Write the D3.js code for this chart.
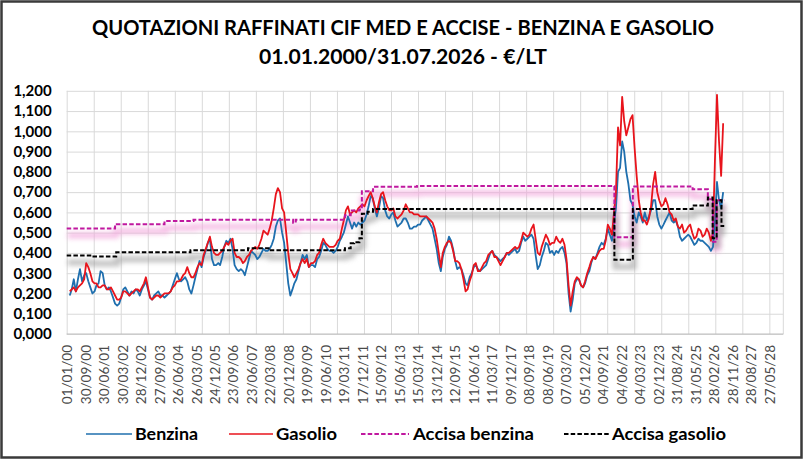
<!DOCTYPE html>
<html>
<head>
<meta charset="utf-8">
<script src="https://cdn.jsdelivr.net/npm/d3@7"></script>
<style>
  body { margin: 0; background: #fff; }
  svg { display: block; }
</style>
</head>
<body>
<div id="chart"></div>
<script>
// quotazioni mensili (€/lt), una riga per anno, gen 2000 -> lug 2026
const firstMonth = "2000-01-15";
const benzina = [
  0.19, 0.22, 0.27, 0.21, 0.27, 0.32, 0.26, 0.29, 0.30, 0.26, 0.23, 0.20,
  0.21, 0.24, 0.25, 0.31, 0.30, 0.24, 0.22, 0.23, 0.21, 0.18, 0.15, 0.14,
  0.15, 0.18, 0.22, 0.23, 0.21, 0.19, 0.21, 0.20, 0.22, 0.21, 0.19, 0.22,
  0.24, 0.26, 0.22, 0.18, 0.17, 0.19, 0.20, 0.21, 0.19, 0.19, 0.18, 0.19,
  0.20, 0.21, 0.24, 0.27, 0.30, 0.27, 0.26, 0.27, 0.28, 0.26, 0.22, 0.20,
  0.24, 0.28, 0.32, 0.36, 0.33, 0.38, 0.41, 0.45, 0.47, 0.37, 0.34, 0.34,
  0.35, 0.34, 0.38, 0.43, 0.46, 0.45, 0.47, 0.42, 0.34, 0.32, 0.31, 0.32,
  0.31, 0.29, 0.33, 0.37, 0.41, 0.40, 0.39, 0.37, 0.38, 0.40, 0.42, 0.41,
  0.41, 0.42, 0.44, 0.47, 0.53, 0.56, 0.57, 0.50, 0.45, 0.35, 0.25, 0.19,
  0.22, 0.25, 0.27, 0.31, 0.35, 0.39, 0.37, 0.39, 0.33, 0.34, 0.34, 0.33,
  0.37, 0.38, 0.41, 0.45, 0.44, 0.42, 0.41, 0.41, 0.40, 0.41, 0.43, 0.46,
  0.48, 0.50, 0.54, 0.58, 0.55, 0.52, 0.55, 0.53, 0.55, 0.54, 0.55, 0.56,
  0.59, 0.63, 0.68, 0.67, 0.62, 0.58, 0.62, 0.68, 0.67, 0.61, 0.58, 0.57,
  0.59, 0.60, 0.56, 0.53, 0.54, 0.55, 0.57, 0.57, 0.55, 0.52, 0.52, 0.53,
  0.53, 0.54, 0.54, 0.56, 0.57, 0.58, 0.56, 0.54, 0.52, 0.47, 0.42, 0.35,
  0.31, 0.38, 0.42, 0.44, 0.48, 0.46, 0.42, 0.36, 0.32, 0.33, 0.32, 0.29,
  0.25, 0.24, 0.28, 0.30, 0.33, 0.34, 0.32, 0.31, 0.32, 0.33, 0.34, 0.37,
  0.40, 0.41, 0.39, 0.38, 0.37, 0.36, 0.37, 0.38, 0.40, 0.39, 0.40, 0.41,
  0.42, 0.40, 0.41, 0.45, 0.48, 0.46, 0.47, 0.48, 0.49, 0.47, 0.39, 0.32,
  0.34, 0.38, 0.41, 0.45, 0.44, 0.40, 0.41, 0.39, 0.41, 0.40, 0.42, 0.43,
  0.40, 0.35, 0.20, 0.11, 0.17, 0.25, 0.27, 0.27, 0.24, 0.23, 0.25, 0.29,
  0.31, 0.35, 0.38, 0.37, 0.40, 0.43, 0.45, 0.44, 0.47, 0.52, 0.49, 0.46,
  0.55, 0.62, 0.80, 0.82, 0.95, 0.90, 0.80, 0.74, 0.66, 0.64, 0.58, 0.55,
  0.60, 0.58, 0.55, 0.60, 0.56, 0.58, 0.61, 0.66, 0.66, 0.58, 0.54, 0.52,
  0.54, 0.56, 0.58, 0.60, 0.56, 0.55, 0.56, 0.53, 0.48, 0.46, 0.47, 0.48,
  0.49, 0.48, 0.46, 0.44, 0.45, 0.47, 0.46, 0.46, 0.45, 0.44, 0.43, 0.41,
  0.43, 0.55, 0.75, 0.66, 0.62, 0.70, 0.66
];
const gasolio = [
  0.21, 0.22, 0.23, 0.21, 0.23, 0.24, 0.25, 0.27, 0.35, 0.33, 0.30, 0.26,
  0.25, 0.25, 0.23, 0.23, 0.24, 0.24, 0.22, 0.22, 0.23, 0.21, 0.19, 0.17,
  0.17, 0.18, 0.21, 0.21, 0.20, 0.19, 0.20, 0.21, 0.22, 0.22, 0.21, 0.23,
  0.25, 0.28, 0.23, 0.18, 0.17, 0.18, 0.19, 0.19, 0.18, 0.19, 0.20, 0.20,
  0.20, 0.21, 0.23, 0.24, 0.26, 0.26, 0.27, 0.29, 0.30, 0.33, 0.30, 0.28,
  0.28, 0.30, 0.33, 0.35, 0.34, 0.39, 0.42, 0.45, 0.48, 0.43, 0.40, 0.39,
  0.39, 0.40, 0.41, 0.43, 0.45, 0.44, 0.46, 0.47, 0.40, 0.38, 0.38, 0.37,
  0.35, 0.36, 0.38, 0.39, 0.41, 0.42, 0.43, 0.42, 0.44, 0.47, 0.51, 0.50,
  0.49, 0.52, 0.56, 0.62, 0.69, 0.72, 0.70, 0.62, 0.60, 0.50, 0.40, 0.32,
  0.30, 0.28, 0.30, 0.32, 0.35, 0.37, 0.35, 0.37, 0.33, 0.35, 0.35, 0.36,
  0.39, 0.40, 0.44, 0.47, 0.45, 0.44, 0.43, 0.43, 0.43, 0.44, 0.46, 0.47,
  0.52, 0.56, 0.61, 0.63, 0.59, 0.60, 0.61, 0.60, 0.62, 0.63, 0.64, 0.63,
  0.66, 0.68, 0.70, 0.67, 0.63, 0.60, 0.65, 0.69, 0.70, 0.66, 0.63, 0.61,
  0.61, 0.62, 0.58, 0.57, 0.58, 0.59, 0.61, 0.64, 0.62, 0.60, 0.60, 0.59,
  0.59, 0.59, 0.58, 0.58, 0.58, 0.58, 0.57, 0.56, 0.55, 0.52, 0.47, 0.40,
  0.33, 0.40, 0.43, 0.45, 0.46, 0.45, 0.41, 0.36, 0.36, 0.35, 0.32, 0.27,
  0.21, 0.22, 0.26, 0.29, 0.34, 0.35, 0.31, 0.31, 0.33, 0.35, 0.36, 0.39,
  0.40, 0.41, 0.38, 0.38, 0.36, 0.34, 0.36, 0.38, 0.40, 0.40, 0.41, 0.42,
  0.43, 0.42, 0.43, 0.46, 0.50, 0.49, 0.48, 0.49, 0.52, 0.54, 0.47, 0.40,
  0.39, 0.43, 0.46, 0.49, 0.47, 0.44, 0.45, 0.45, 0.48, 0.46, 0.45, 0.47,
  0.44, 0.37, 0.24, 0.14, 0.21, 0.26, 0.28, 0.27, 0.24, 0.23, 0.26, 0.30,
  0.33, 0.36, 0.38, 0.37, 0.39, 0.41, 0.42, 0.42, 0.46, 0.54, 0.52, 0.49,
  0.60, 0.70, 1.02, 0.93, 1.17, 1.05, 0.98, 1.02, 1.06, 1.08, 0.92, 0.78,
  0.66, 0.60, 0.56, 0.56, 0.54, 0.57, 0.63, 0.74, 0.80, 0.70, 0.66, 0.63,
  0.64, 0.67, 0.64, 0.60, 0.59, 0.56, 0.57, 0.53, 0.52, 0.54, 0.50, 0.51,
  0.53, 0.54, 0.50, 0.47, 0.48, 0.52, 0.51, 0.48, 0.49, 0.52, 0.50, 0.46,
  0.50, 0.85, 1.18, 0.95, 0.78, 1.04, 0.90
];

// accise: data di variazione e nuovo valore (€/lt)
const acciseBenzinaDate = ["2000-01-01", "2001-12-15", "2003-12-15", "2005-02-15", "2009-02-25", "2009-04-05",
  "2011-04-01", "2011-06-25", "2011-11-01", "2011-12-07", "2012-05-20", "2014-03-01", "2022-02-20",
  "2022-11-20", "2025-04-20", "2025-12-01", "2026-02-15", "2026-04-10", "2026-07-31"];
const acciseBenzina = [0.520, 0.542, 0.558, 0.564, 0.549, 0.564,
  0.586, 0.609, 0.614, 0.704, 0.726, 0.730, 0.478,
  0.728, 0.714, 0.665, 0.455, 0.660, 0.660];
const acciseGasolioDate = ["2000-01-01", "2001-01-01", "2002-01-01", "2005-01-01", "2007-05-01", "2008-03-15",
  "2011-04-01", "2011-06-25", "2011-08-15", "2011-11-01", "2011-12-07", "2012-03-01", "2012-05-20",
  "2022-02-20", "2022-11-20", "2025-04-20", "2025-12-01", "2026-02-10", "2026-04-10",
  "2026-06-20", "2026-07-31"];
const acciseGasolio = [0.387, 0.382, 0.403, 0.413, 0.423, 0.413,
  0.423, 0.448, 0.453, 0.473, 0.593, 0.603, 0.617,
  0.366, 0.617, 0.634, 0.674, 0.472, 0.660,
  0.533, 0.533];

const xTickLabels = ["01/01/00", "30/09/00", "30/06/01", "30/03/02", "28/12/02", "27/09/03", "26/06/04",
  "26/03/05", "24/12/05", "23/09/06", "23/06/07", "22/03/08", "20/12/08", "19/09/09", "19/06/10",
  "19/03/11", "17/12/11", "15/09/12", "15/06/13", "15/03/14", "13/12/14", "12/09/15", "11/06/16",
  "11/03/17", "09/12/17", "08/09/18", "08/06/19", "07/03/20", "05/12/20", "04/09/21", "04/06/22",
  "04/03/23", "02/12/23", "31/08/24", "31/05/25", "28/02/26", "28/11/26", "28/08/27", "27/05/28"];
const yTicks = [0, 0.1, 0.2, 0.3, 0.4, 0.5, 0.6, 0.7, 0.8, 0.9, 1.0, 1.1, 1.2];

const seriesNames = ["Benzina", "Gasolio", "Accisa benzina", "Accisa gasolio"];
const seriesColors = ["#1f6fae", "#e8141c", "#c0189f", "#000000"];

const width = 806;
const height = 463;
const marginLeft = 66.7;
const marginRight = 22.7;
const marginTop = 90.8;
const plotBottom = 334;
const gridStepDays = 399;
const axisDays = 10580;

const parseIso = d3.utcParse("%Y-%m-%d");
const parseTick = d3.utcParse("%d/%m/%y");
const itLocale = d3.formatLocale({ decimal: ",", thousands: ".", grouping: [3], currency: ["€", ""] });
const formatY = itLocale.format(".3f");

const start = parseIso("2000-01-01");
const x = d3.scaleUtc()
  .domain([start, d3.utcDay.offset(start, axisDays)])
  .range([marginLeft, width - marginRight]);
const y = d3.scaleLinear().domain([0, 1.2]).range([plotBottom, marginTop]);

const months = d3.utcMonth.range(parseIso(firstMonth), parseIso("2026-08-01"))
  .map((d) => d3.utcDay.offset(d, 14));
const benzinaData = months.map((d, i) => ({ date: d, value: benzina[i] }));
const gasolioData = months.map((d, i) => ({ date: d, value: gasolio[i] }));
const acciseBData = acciseBenzinaDate.map((d, i) => ({ date: parseIso(d), value: acciseBenzina[i] }));
const acciseGData = acciseGasolioDate.map((d, i) => ({ date: parseIso(d), value: acciseGasolio[i] }));

const svg = d3.select("#chart")
  .append("svg")
  .attr("width", width)
  .attr("height", height)
  .attr("viewBox", [0, 0, width, height])
  .style("font-family", "Lato, 'Open Sans', sans-serif");

const defs = svg.append("defs");
defs.append("filter")
  .attr("id", "soft")
  .attr("filterUnits", "userSpaceOnUse")
  .attr("x", 0).attr("y", 0).attr("width", width).attr("height", height)
  .append("feGaussianBlur")
  .attr("stdDeviation", 2.6);

svg.append("rect")
  .attr("width", width).attr("height", height)
  .attr("fill", "#fff");

// titolo
const titleLines = [
  { text: "QUOTAZIONI RAFFINATI CIF MED E ACCISE - BENZINA E GASOLIO", y: 28, len: 622 },
  { text: "01.01.2000/31.07.2026 - €/LT", y: 57, len: 288 }
];
svg.append("g")
  .selectAll("text")
  .data(titleLines)
  .join("text")
  .attr("x", 403)
  .attr("y", (d) => d.y)
  .attr("dy", "0.35em")
  .attr("text-anchor", "middle")
  .attr("textLength", (d) => d.len)
  .attr("lengthAdjust", "spacingAndGlyphs")
  .style("font-size", "20px")
  .style("font-weight", "bold")
  .attr("fill", "#000")
  .text((d) => d.text);

// griglia orizzontale
svg.append("g")
  .attr("transform", `translate(${marginLeft},0)`)
  .call(d3.axisLeft(y).tickValues(yTicks).tickSize(-(width - marginRight - marginLeft)).tickFormat(""))
  .call((g) => g.select(".domain").remove())
  .call((g) => g.selectAll(".tick line").attr("stroke", "#d9d9d9").attr("stroke-width", 1));

// griglia verticale
const gridDates = d3.range(0, axisDays, gridStepDays).map((d) => d3.utcDay.offset(start, d));
svg.append("g")
  .attr("transform", `translate(0,${plotBottom})`)
  .call(d3.axisBottom(x).tickValues(gridDates).tickSize(-(plotBottom - marginTop)).tickFormat(""))
  .call((g) => g.select(".domain").remove())
  .call((g) => g.selectAll(".tick line").attr("stroke", "#d9d9d9").attr("stroke-width", 1));

svg.append("line")
  .attr("x1", width - marginRight).attr("x2", width - marginRight)
  .attr("y1", marginTop).attr("y2", plotBottom)
  .attr("stroke", "#d9d9d9");

// asse x
svg.append("g")
  .attr("transform", `translate(0,${plotBottom})`)
  .call(d3.axisBottom(x).tickValues(xTickLabels.map(parseTick)).tickSize(0).tickFormat((d, i) => xTickLabels[i]))
  .call((g) => g.select(".domain").attr("stroke", "#bfbfbf").attr("d", `M${marginLeft},0H${width - marginRight}`))
  .call((g) => g.selectAll(".tick text")
    .attr("transform", "rotate(-90)")
    .attr("x", -11)
    .attr("y", 0)
    .attr("dy", "0.36em")
    .attr("text-anchor", "end")
    .attr("fill", "#4a4a4a")
    .style("font-family", "Lato, sans-serif")
    .style("font-size", "13.5px"));

// asse y
svg.append("g")
  .attr("transform", `translate(${marginLeft},0)`)
  .call(d3.axisLeft(y).tickValues(yTicks).tickSize(0).tickPadding(15).tickFormat(formatY))
  .call((g) => g.select(".domain").remove())
  .call((g) => g.selectAll(".tick text")
    .attr("fill", "#000")
    .style("font-family", "Lato, sans-serif")
    .style("font-weight", "bold")
    .style("font-size", "15px"));

const line = d3.line().x((d) => x(d.date)).y((d) => y(d.value));
const step = d3.line().curve(d3.curveStepAfter).x((d) => x(d.date)).y((d) => y(d.value));

// ombre delle accise
svg.append("path")
  .datum(acciseBData)
  .attr("d", step)
  .attr("fill", "none")
  .attr("stroke", "#f2a6dc")
  .attr("stroke-width", 6)
  .attr("opacity", 0.7)
  .attr("transform", "translate(1,7)")
  .attr("filter", "url(#soft)");
svg.append("path")
  .datum(acciseGData)
  .attr("d", step)
  .attr("fill", "none")
  .attr("stroke", "#9a9a9a")
  .attr("stroke-width", 6)
  .attr("opacity", 0.6)
  .attr("transform", "translate(1,7)")
  .attr("filter", "url(#soft)");

svg.append("path")
  .datum(benzinaData)
  .attr("d", line)
  .attr("fill", "none")
  .attr("stroke", seriesColors[0])
  .attr("stroke-width", 1.8)
  .attr("stroke-linejoin", "round");
svg.append("path")
  .datum(gasolioData)
  .attr("d", line)
  .attr("fill", "none")
  .attr("stroke", seriesColors[1])
  .attr("stroke-width", 1.8)
  .attr("stroke-linejoin", "round");

svg.append("path")
  .datum(acciseBData)
  .attr("d", step)
  .attr("fill", "none")
  .attr("stroke", seriesColors[2])
  .attr("stroke-width", 2)
  .attr("stroke-dasharray", "4.5,2.2");
svg.append("path")
  .datum(acciseGData)
  .attr("d", step)
  .attr("fill", "none")
  .attr("stroke", seriesColors[3])
  .attr("stroke-width", 2)
  .attr("stroke-dasharray", "4.5,2.2");

// legenda
const legendItems = [
  { x1: 86, x2: 132, tx: 135, len: 63, dash: null, lw: 1.4 },
  { x1: 229, x2: 273, tx: 276, len: 61, dash: null, lw: 1.4 },
  { x1: 361, x2: 409, tx: 413, len: 121, dash: "4.5,2.2", lw: 2 },
  { x1: 564, x2: 610, tx: 612, len: 114, dash: "4.5,2.2", lw: 2 }
];
const legendY = 434;
const legend = svg.append("g")
  .selectAll("g")
  .data(legendItems)
  .join("g");
legend.append("line")
  .attr("x1", (d) => d.x1).attr("x2", (d) => d.x2)
  .attr("y1", legendY).attr("y2", legendY)
  .attr("stroke", (d, i) => seriesColors[i])
  .attr("stroke-width", (d) => d.lw)
  .attr("stroke-dasharray", (d) => d.dash);
legend.append("text")
  .attr("x", (d) => d.tx)
  .attr("y", legendY)
  .attr("dy", "0.35em")
  .attr("textLength", (d) => d.len)
  .attr("lengthAdjust", "spacingAndGlyphs")
  .style("font-size", "17px")
  .style("font-weight", "bold")
  .attr("fill", "#000")
  .text((d, i) => seriesNames[i]);

// cornice
svg.append("rect")
  .attr("x", 1.5).attr("y", 1.5)
  .attr("width", 800).attr("height", 456)
  .attr("fill", "none")
  .attr("stroke", "#3a3a3a")
  .attr("stroke-width", 2.5);
</script>
</body>
</html>
